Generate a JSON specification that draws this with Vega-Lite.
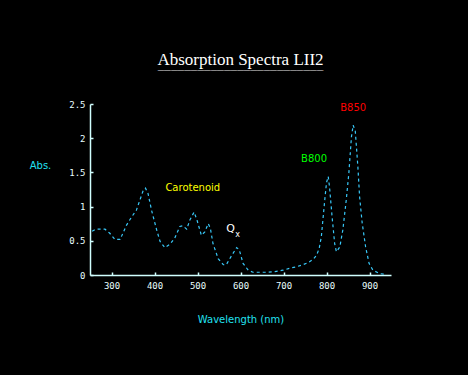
{
  "$schema": "https://vega.github.io/schema/vega-lite/v6.json",
  "autosize": "none",
  "width": 301,
  "height": 171,
  "padding": {"left": 90, "top": 104, "right": 77, "bottom": 100},
  "background": "#000000",
  "title": {
    "text": "Absorption Spectra LII2",
    "subtitle": "‾‾‾‾‾‾‾‾‾‾‾‾‾‾‾‾‾‾‾‾‾‾‾‾‾",
    "font": "Liberation Serif",
    "fontSize": 17,
    "fontWeight": "normal",
    "color": "#ffffff",
    "subtitleFont": "DejaVu Sans Mono",
    "subtitleFontSize": 11,
    "subtitleColor": "#ffffff",
    "subtitlePadding": 0,
    "anchor": "middle",
    "offset": 19
  },
  "config": {
    "view": {"stroke": null},
    "axis": {"grid": false}
  },
  "datasets": {
    "spectrum": [
      {"wavelength": 255, "abs": 0.64},
      {"wavelength": 263, "abs": 0.67},
      {"wavelength": 285, "abs": 0.67},
      {"wavelength": 296, "abs": 0.61},
      {"wavelength": 308, "abs": 0.52},
      {"wavelength": 320, "abs": 0.52},
      {"wavelength": 335, "abs": 0.73},
      {"wavelength": 347, "abs": 0.85},
      {"wavelength": 358, "abs": 0.95},
      {"wavelength": 374, "abs": 1.24},
      {"wavelength": 379, "abs": 1.27},
      {"wavelength": 385, "abs": 1.19},
      {"wavelength": 393, "abs": 0.95},
      {"wavelength": 405, "abs": 0.66},
      {"wavelength": 413, "abs": 0.49},
      {"wavelength": 424, "abs": 0.40},
      {"wavelength": 436, "abs": 0.45},
      {"wavelength": 447, "abs": 0.54},
      {"wavelength": 459, "abs": 0.71},
      {"wavelength": 466, "abs": 0.72},
      {"wavelength": 475, "abs": 0.67},
      {"wavelength": 482, "abs": 0.80},
      {"wavelength": 492, "abs": 0.92},
      {"wavelength": 499, "abs": 0.80},
      {"wavelength": 509, "abs": 0.58},
      {"wavelength": 517, "abs": 0.63},
      {"wavelength": 525, "abs": 0.75},
      {"wavelength": 530, "abs": 0.68},
      {"wavelength": 536, "abs": 0.46},
      {"wavelength": 548, "abs": 0.24},
      {"wavelength": 560, "abs": 0.15},
      {"wavelength": 567, "abs": 0.15},
      {"wavelength": 579, "abs": 0.28},
      {"wavelength": 591, "abs": 0.40},
      {"wavelength": 597, "abs": 0.37},
      {"wavelength": 606, "abs": 0.17},
      {"wavelength": 618, "abs": 0.07},
      {"wavelength": 629, "abs": 0.04},
      {"wavelength": 660, "abs": 0.04},
      {"wavelength": 680, "abs": 0.05},
      {"wavelength": 699, "abs": 0.07},
      {"wavelength": 715, "abs": 0.10},
      {"wavelength": 730, "abs": 0.12},
      {"wavelength": 745, "abs": 0.15},
      {"wavelength": 757, "abs": 0.18},
      {"wavelength": 769, "abs": 0.23},
      {"wavelength": 777, "abs": 0.29},
      {"wavelength": 783, "abs": 0.39},
      {"wavelength": 788, "abs": 0.56},
      {"wavelength": 796, "abs": 1.10},
      {"wavelength": 800, "abs": 1.35},
      {"wavelength": 804, "abs": 1.44},
      {"wavelength": 807, "abs": 1.29},
      {"wavelength": 813, "abs": 0.85},
      {"wavelength": 819, "abs": 0.46},
      {"wavelength": 823, "abs": 0.34},
      {"wavelength": 831, "abs": 0.41},
      {"wavelength": 838, "abs": 0.66},
      {"wavelength": 846, "abs": 1.10},
      {"wavelength": 852, "abs": 1.49},
      {"wavelength": 858, "abs": 2.02},
      {"wavelength": 862, "abs": 2.19},
      {"wavelength": 867, "abs": 2.10},
      {"wavelength": 873, "abs": 1.58},
      {"wavelength": 877, "abs": 1.14},
      {"wavelength": 883, "abs": 0.76},
      {"wavelength": 891, "abs": 0.41},
      {"wavelength": 899, "abs": 0.17},
      {"wavelength": 908, "abs": 0.07},
      {"wavelength": 924, "abs": 0.02},
      {"wavelength": 939, "abs": 0.01}
    ],
    "labels": [
      {"wavelength": 489, "abs": 1.27, "label": "Carotenoid"},
      {"wavelength": 771, "abs": 1.69, "label": "B800"},
      {"wavelength": 862, "abs": 2.44, "label": "B850"}
    ],
    "qlabel": [
      {"wavelength": 567, "abs": 0.67, "label": "Q"}
    ],
    "qsub": [
      {"wavelength": 588, "abs": 0.58, "label": "x"}
    ]
  },
  "encoding": {
    "x": {
      "field": "wavelength",
      "type": "quantitative",
      "scale": {"domain": [250, 950], "nice": false, "zero": false},
      "axis": {
        "values": [300, 400, 500, 600, 700, 800, 900],
        "title": "Wavelength (nm)",
        "titleFont": "DejaVu Sans",
        "titleFontSize": 10,
        "titleFontWeight": "normal",
        "titleColor": "#20e0f0",
        "titlePadding": 24,
        "labelFont": "DejaVu Sans Mono",
        "labelFontSize": 9,
        "labelColor": "#e8ffff",
        "labelPadding": 9,
        "labelOverlap": false,
        "labelFlush": false,
        "domainColor": "#d0ffff",
        "domainWidth": 1.5,
        "tickColor": "#d0ffff",
        "tickSize": -3,
        "tickWidth": 1.5
      }
    },
    "y": {
      "field": "abs",
      "type": "quantitative",
      "scale": {"domain": [0, 2.5], "nice": false},
      "axis": {
        "values": [0, 0.5, 1, 1.5, 2, 2.5],
        "labelExpr": "format(datum.value, '.2~f')",
        "title": "Abs.",
        "titleFont": "DejaVu Sans",
        "titleFontSize": 10,
        "titleFontWeight": "normal",
        "titleColor": "#20e0f0",
        "titleAngle": 0,
        "titleAlign": "center",
        "titleBaseline": "middle",
        "titleX": -50,
        "titleY": 61,
        "labelFont": "DejaVu Sans Mono",
        "labelFontSize": 9,
        "labelColor": "#e8ffff",
        "labelPadding": 8,
        "labelOverlap": false,
        "labelFlush": false,
        "domainColor": "#d0ffff",
        "domainWidth": 1.5,
        "tickColor": "#d0ffff",
        "tickSize": -3,
        "tickWidth": 1.5
      }
    }
  },
  "layer": [
    {
      "data": {"name": "spectrum"},
      "mark": {"type": "line", "color": "#38c8f8", "strokeWidth": 1.2, "strokeDash": [3, 3], "clip": false}
    },
    {
      "data": {"name": "labels"},
      "mark": {"type": "text", "font": "DejaVu Sans", "fontSize": 10, "baseline": "middle", "clip": false},
      "encoding": {
        "text": {"field": "label"},
        "color": {
          "field": "label",
          "type": "nominal",
          "scale": {"domain": ["Carotenoid", "B800", "B850"], "range": ["#ffff00", "#00ff00", "#ff0000"]},
          "legend": null
        }
      }
    },
    {
      "data": {"name": "qlabel"},
      "mark": {"type": "text", "font": "DejaVu Sans", "fontSize": 11, "align": "left", "baseline": "middle", "color": "#ffffff", "clip": false},
      "encoding": {
        "text": {"field": "label"}
      }
    },
    {
      "data": {"name": "qsub"},
      "mark": {"type": "text", "font": "DejaVu Sans", "fontSize": 8, "align": "left", "baseline": "middle", "color": "#ffffff", "clip": false},
      "encoding": {
        "text": {"field": "label"}
      }
    }
  ]
}
